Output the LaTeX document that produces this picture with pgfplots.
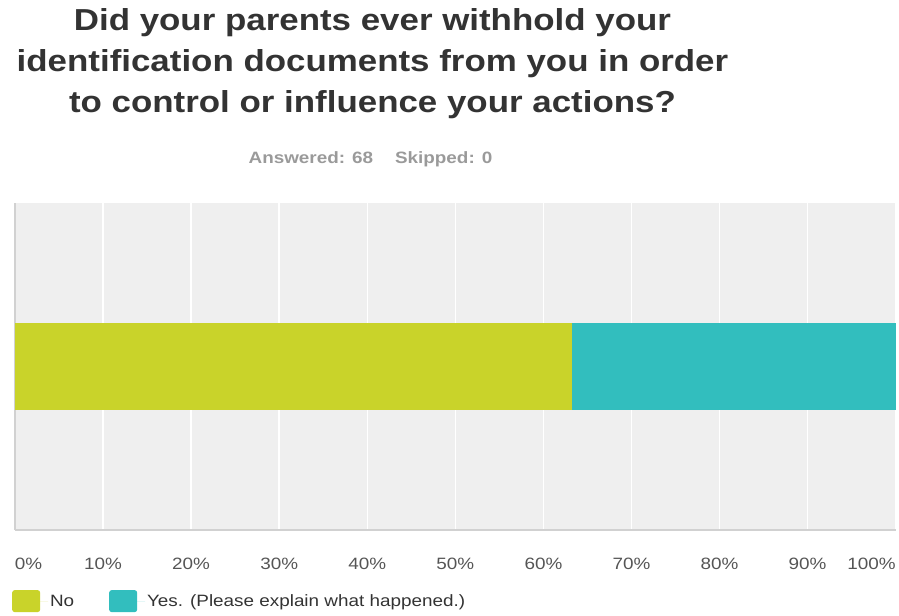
\documentclass[border=0pt]{standalone}
\usepackage{pgfplots}
\pgfplotsset{compat=1.18}
\usepackage{fontspec}
\setmainfont[FakeStretch=1.15]{Liberation Sans}
\definecolor{noC}{HTML}{C9D32A}
\definecolor{yesC}{HTML}{32BEBE}
\definecolor{bgC}{HTML}{EFEFEF}
\definecolor{titleC}{HTML}{333333}
\definecolor{subC}{HTML}{9A9A9A}
\definecolor{tickC}{HTML}{555555}
\begin{document}
\begin{tikzpicture}
\begin{axis}[
  name=ax,
  at={(0,0)}, anchor=south west,
  width=882bp, height=328bp, scale only axis,
  xbar stacked,
  bar width=88bp,
  xmin=0, xmax=100, ymin=-1, ymax=1,
  ytick=\empty,
  xtick={0,10,...,100},
  xticklabels={\makebox[0pt][l]{0\%},10\%,20\%,30\%,40\%,50\%,60\%,70\%,80\%,90\%,\makebox[0pt][r]{100\%}},
  xticklabel style={font=\fontsize{16.5}{20}\selectfont, text=tickC, anchor=north, yshift=-24bp},
  major tick length=0pt,
  xmajorgrids,
  grid style={draw=white, line width=1.5bp},
  axis background/.style={fill=bgC},
  axis lines*=left,
  axis line style={-, draw=black!18, line width=2bp},
  clip=false,
  legend columns=2,
  legend style={at={(0,0)}, anchor=west, xshift=-3bp, yshift=-71bp, draw=none, fill=none, inner sep=0pt,
    font=\fontsize{16.5}{20}\selectfont, text=titleC,
    /tikz/every even column/.append style={column sep=33bp}},
  legend image code/.code={\fill[#1, rounded corners=2.5bp] (0bp,-11bp) rectangle (28bp,11bp);\path (0bp,0bp) -- (36bp,0bp);},
]
\addplot[fill=noC, draw=none] coordinates {(63.24,0)};
\addplot[fill=yesC, draw=none] coordinates {(36.76,0)};
\legend{No, Yes. (Please explain what happened.)}
\end{axis}
\node[align=center, text=titleC, font=\bfseries\fontsize{30.5}{41}\selectfont] at ([xshift=358bp, yshift=467bp]ax.south west)
  {Did your parents ever withhold your\\identification documents from you in order\\to control or influence your actions?};
\node[text=subC, font=\bfseries\fontsize{16.5}{20}\selectfont] at ([xshift=356bp, yshift=372bp]ax.south west)
  {Answered: 68\hspace{22bp}Skipped: 0};
\useasboundingbox ([xshift=-15bp,yshift=-85bp]ax.south west) rectangle ++(899bp,616bp);
\end{tikzpicture}
\end{document}
